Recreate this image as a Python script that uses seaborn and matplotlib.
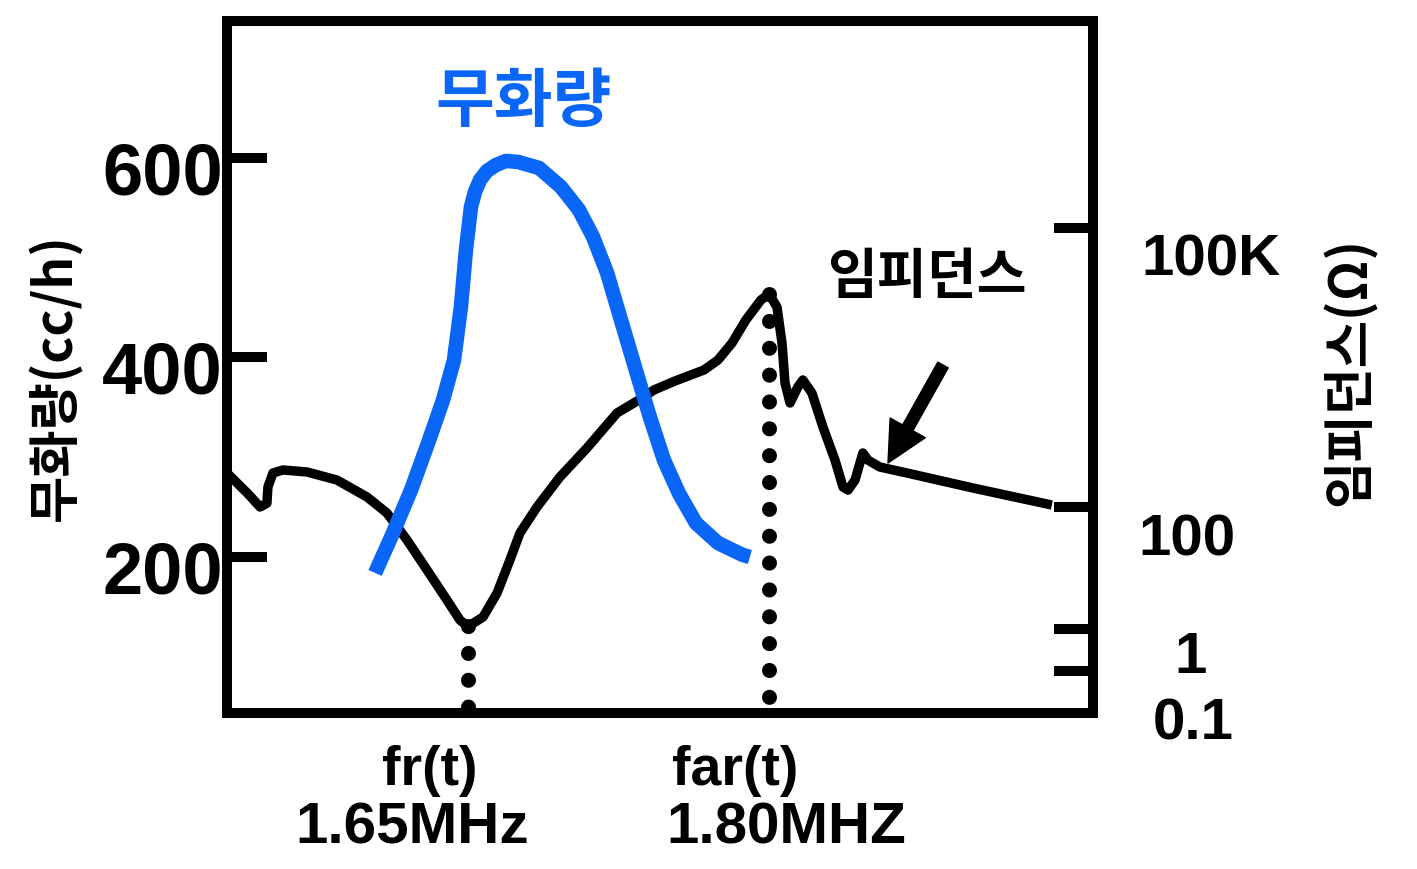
import numpy as np
import matplotlib
matplotlib.use("Agg")
import matplotlib.pyplot as plt
import matplotlib.transforms as mtransforms
import seaborn as sns

# ---------------- data ----------------
# atomization rate (left axis, cc/h) vs frequency (MHz)
mist_freq = [1.6037, 1.6126, 1.6216, 1.6306, 1.6375, 1.6430, 1.6465, 1.6490, 1.6515,
             1.6535, 1.6560, 1.6595, 1.6640, 1.6689, 1.6749, 1.6854, 1.6963, 1.7053,
             1.7123, 1.7193, 1.7262, 1.7337, 1.7407, 1.7477, 1.7551, 1.7636, 1.7746,
             1.7870, 1.7905]
mist_rate = [184, 224, 267, 317, 357, 397, 451, 508, 551,
             566, 578, 587, 593, 597, 596, 590, 571, 548,
             521, 485, 438, 387, 340, 297, 264, 234, 214,
             202, 200]

# impedance (right axis, ohm) vs frequency (MHz)
imp_freq = [1.5299, 1.5399, 1.5464, 1.5498, 1.5503, 1.5528, 1.5578, 1.5698, 1.5847,
            1.5997, 1.6096, 1.6196, 1.6296, 1.6395, 1.6460, 1.6500, 1.6575, 1.6645,
            1.6709, 1.6759, 1.6844, 1.6958, 1.7093, 1.7243, 1.7352, 1.7427, 1.7532,
            1.7676, 1.7746, 1.7816, 1.7885, 1.7960, 1.8000, 1.8040, 1.8065, 1.8080,
            1.8105, 1.8144, 1.8169, 1.8214, 1.8269, 1.8329, 1.8369, 1.8394, 1.8429,
            1.8468, 1.8493, 1.8553, 1.8688, 1.9017, 1.9410]
imp_ohm = [232, 142, 100, 110, 164, 232, 250, 238, 195,
           128, 79.7, 28.8, 9.27, 2.99, 1.40, 1.10, 1.57, 3.89,
           13.5, 37.5, 100, 210, 431, 1026, 1416, 1813, 2265,
           2972, 3809, 5800, 10260, 16830, 19500, 14160, 5800, 2155,
           1313, 1950, 2322, 1682, 725, 320, 164, 152, 195,
           381, 320, 269, 232, 160, 105]

# resonance markers
fr_freq, fr_ohm = 1.65, 1.10
far_freq, far_ohm = 1.80, 19500

left_ticks = [200, 400, 600]
left_ticklabels = ["200", "400", "600"]
right_ticks = [0.1, 1, 100, 1e5]
right_ticklabels = ["0.1", "1", "100", "100K"]

mist_title = "무화량"
imp_title = "임피던스"
left_label = "무화량(cc/h)"
right_label = "임피던스(Ω)"
fr_label = ("fr(t)", "1.65MHz")
far_label = ("far(t)", "1.80MHZ")

# ---------------- style ----------------
sns.set_theme(style="white")
plt.rcParams["font.family"] = ["Liberation Sans", "Noto Sans CJK KR", "DejaVu Sans"]
plt.rcParams["font.weight"] = "bold"
plt.rcParams["text.color"] = "black"

BLUE = "#0a66f6"
KR = ["Noto Sans CJK KR", "DejaVu Sans"]

fig = plt.figure(figsize=(14.17, 8.69), dpi=100)
ax = fig.add_axes([227 / 1417, 156 / 869, 866 / 1417, 692 / 869])
ax2 = ax.twinx()
ax.set_zorder(2)
ax2.set_zorder(1)
ax.patch.set_visible(False)

# piecewise "schematic" impedance scale (decades not equally spaced)
_logs = np.array([-4.0, -1.0, 0.0, 2.0, 5.0, 9.0])
_pos = np.array([-84.0, 42.0, 84.0, 206.0, 485.0, 857.0])


def fwd(v):
    v = np.asarray(v, dtype=float)
    return np.interp(np.log10(np.clip(v, 1e-12, None)), _logs, _pos)


def inv(p):
    return 10 ** np.interp(np.asarray(p, dtype=float), _pos, _logs)


ax2.set_yscale("function", functions=(fwd, inv))

# ---------------- curves ----------------
sns.lineplot(x=imp_freq, y=imp_ohm, ax=ax2, color="black", lw=6.8, estimator=None,
             solid_joinstyle="round", solid_capstyle="butt")
sns.lineplot(x=mist_freq, y=mist_rate, ax=ax, color=BLUE, lw=10.5, estimator=None,
             solid_joinstyle="round", solid_capstyle="butt")

ax.set_xlim(1.5299, 1.9615)
ax2.set_xlim(1.5299, 1.9615)
ax.set_ylim(43.6, 737.3)
ax2.set_ylim(inv(0), inv(692))

ybot = inv(0)
for fx, fy in [(fr_freq, fr_ohm), (far_freq, far_ohm)]:
    ax2.plot([fx, fx], [fy, ybot], color="black", lw=10.8,
             linestyle=(0, (0.01, 1.78)), dash_capstyle="round", zorder=1)

# ---------------- axes / ticks ----------------
for a in (ax, ax2):
    for s in a.spines.values():
        s.set_linewidth(7.2)
        s.set_color("black")
    a.set_xticks([])
    a.grid(False)
    a.set_xlabel("")
    a.set_ylabel("")

ax.set_yticks(left_ticks)
ax.set_yticklabels(left_ticklabels)
ax.tick_params(axis="y", left=True, right=False, direction="in", length=29, width=7.2,
               labelsize=52, pad=3, colors="black")
ax2.set_yticks(right_ticks)
ax2.set_yticklabels(right_ticklabels)
ax2.yaxis.set_minor_locator(matplotlib.ticker.NullLocator())
ax2.tick_params(axis="y", left=False, right=True, direction="in", length=28, width=7.2,
                labelsize=42, pad=72, colors="black")
for lab in ax2.get_yticklabels():
    lab.set_horizontalalignment("center")

# vertical offsets of tick labels (they sit a bit below their ticks)
for lab in ax.get_yticklabels():
    lab.set_transform(lab.get_transform() +
                      mtransforms.ScaledTranslation(0, -10 / 100, fig.dpi_scale_trans))
right_off = {"0.1": (0, -47), "1": (-2, -23), "100": (-6, -28), "100K": (18, -27)}
for lab in ax2.get_yticklabels():
    dx, dy = right_off.get(lab.get_text(), (0, -27))
    lab.set_transform(lab.get_transform() +
                      mtransforms.ScaledTranslation(dx / 100, dy / 100, fig.dpi_scale_trans))

# ---------------- texts ----------------
W, H = 1417, 869
fig.text(523 / W, 1 - 102 / H, mist_title, color=BLUE, fontsize=46, family=KR,
         fontweight="heavy", ha="center", va="center")
fig.text(927 / W, 1 - 278 / H, imp_title, color="black", fontsize=39, family=KR,
         fontweight="heavy", ha="center", va="center")
fig.text(55 / W, 1 - 377 / H, left_label, color="black", fontsize=37, family=KR,
         fontweight="heavy", rotation=90, ha="center", va="center")
fig.text(1350 / W, 1 - 372 / H, right_label, color="black", fontsize=37, family=KR,
         fontweight="heavy", rotation=90, ha="center", va="center")

fig.text(430 / W, 1 - 771 / H, fr_label[0], color="black", fontsize=40, ha="center", va="center")
fig.text(412 / W, 1 - 829 / H, fr_label[1], color="black", fontsize=42, ha="center", va="center")
fig.text(735 / W, 1 - 771 / H, far_label[0], color="black", fontsize=40, ha="center", va="center")
fig.text(786 / W, 1 - 829 / H, far_label[1], color="black", fontsize=42, ha="center", va="center")

# arrow pointing at the impedance curve
ax2.annotate("", xy=(888, 869 - 463), xycoords="figure pixels",
             xytext=(943, 869 - 365), textcoords="figure pixels",
             arrowprops=dict(arrowstyle="simple,head_length=2.9,head_width=2.9,tail_width=0.85",
                             mutation_scale=10, color="black", shrinkA=0, shrinkB=0))

fig.savefig("out.png", dpi=100)
